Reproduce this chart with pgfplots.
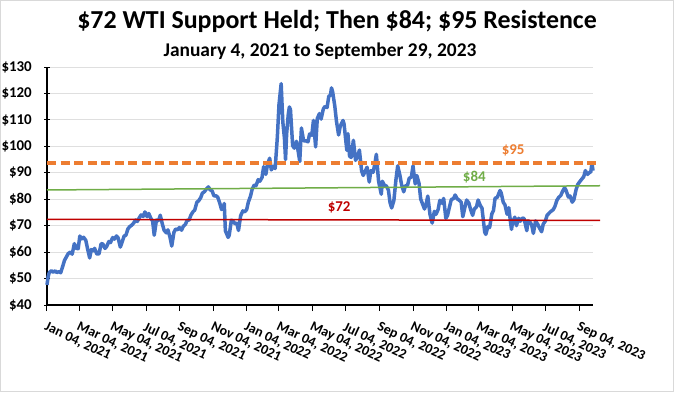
\documentclass[border=0pt]{standalone}
\usepackage{pgfplots}
\pgfplotsset{compat=1.18}
\usepackage{fontspec}
\setmainfont{Carlito}
\definecolor{wtiblue}{HTML}{4472C4}
\definecolor{exorange}{HTML}{ED7D31}
\definecolor{exgreen}{HTML}{70AD47}
\definecolor{exred}{HTML}{C00000}
\pgfplotstableread{
day price
0 47.6
2 50.6
4 52.2
8 53.0
11 52.4
15 52.9
18 52.3
22 52.6
25 52.2
29 54.8
32 56.9
36 58.4
39 59.5
43 60.0
46 59.2
50 63.2
53 61.5
57 61.3
60 66.1
63 65.0
67 65.6
71 64.4
74 61.4
78 57.8
81 60.97
85 60.5
87 61.45
91 59.3
95 59.3
99 63.2
102 63.1
106 61.4
109 62.1
113 64.0
116 63.6
120 65.5
123 64.9
127 66.1
130 65.4
134 61.9
137 63.6
141 66.1
144 66.3
148 68.8
151 69.6
155 70.2
158 70.9
162 72.1
165 71.6
169 73.1
172 74.05
176 73.5
179 75.2
183 73.4
186 74.6
190 72.7
193 71.8
196 66.4
200 72.1
204 71.9
207 73.95
211 70.5
214 68.3
218 67.3
221 68.4
225 65.5
228 62.3
232 67.5
235 68.7
239 68.5
242 69.3
246 68.3
249 69.7
253 70.5
256 71.97
260 72.2
263 73.98
267 75.3
270 75.9
274 78.9
277 79.35
281 80.6
284 82.3
288 82.9
291 83.8
295 84.65
298 83.6
302 83.1
305 81.3
309 81.3
312 80.8
316 78.4
319 76.1
322 76.8
324 78.4
326 68.15
331 65.57
333 66.3
337 72.1
340 71.7
344 70.7
347 70.9
350 68.2
354 73.8
358 75.6
361 75.2
365 76.1
368 78.9
372 81.2
375 83.8
379 85.4
382 85.1
386 87.4
389 86.8
393 88.2
396 92.3
400 89.4
403 93.1
407 95.5
410 91.1
414 92.4
417 91.6
421 103.4
424 115.7
428 123.7
431 109.3
434 103.0
436 95.0
438 104.7
441 112.1
443 114.9
445 113.9
449 100.3
452 99.3
456 101.9
459 98.3
462 94.3
465 106.95
469 102.1
473 102.1
477 101.7
480 104.7
484 104.2
487 109.8
491 99.8
494 110.5
498 112.4
501 110.3
505 114.1
508 115.1
512 114.7
515 118.9
518 119.4
520 122.1
522 120.7
526 115.3
529 109.6
533 104.3
536 107.6
541 109.8
543 108.4
548 98.5
550 104.8
553 96.3
556 95.8
560 102.3
564 94.7
568 96.3
571 98.6
575 90.7
578 89.0
582 90.8
585 92.1
589 86.5
592 90.8
596 90.2
599 93.1
602 97.0
606 86.9
611 81.9
613 86.8
617 85.1
620 85.1
624 83.5
627 78.7
630 76.7
634 79.5
638 87.8
641 92.6
645 89.1
648 85.6
652 82.8
655 85.05
659 85.3
662 87.9
666 88.4
669 92.6
673 85.8
676 88.96
680 86.0
683 80.1
687 77.9
690 76.3
693 78.2
696 81.2
700 74.3
704 71.0
708 75.4
711 74.3
715 76.2
718 79.6
722 78.5
725 80.3
729 72.8
732 73.8
736 77.4
739 79.9
743 80.2
746 81.6
750 80.1
753 79.7
757 78.9
760 73.4
764 77.1
767 79.7
771 78.6
774 76.3
778 73.9
781 76.3
785 77.1
788 79.7
792 77.6
795 76.7
798 71.3
800 67.6
802 66.7
806 69.7
809 69.3
813 74.4
816 75.7
819 80.4
823 80.7
828 83.3
830 82.5
834 78.8
837 77.9
841 74.3
844 76.8
847 71.7
849 68.6
851 71.3
855 73.2
858 70.0
862 72.8
865 71.7
869 72.9
872 72.7
877 68.1
879 71.7
883 71.3
886 70.2
889 67.1
893 71.8
897 70.5
900 69.2
904 67.7
907 70.6
911 71.8
914 73.9
918 74.8
921 75.4
925 76.0
928 77.1
932 79.6
935 80.6
939 81.4
942 82.8
946 84.4
949 83.2
953 80.8
956 81.25
960 78.9
963 79.8
967 83.6
970 85.55
974 86.7
977 87.5
981 88.5
984 90.8
988 89.4
991 90.0
994 90.4
996 93.7
998 90.8
}\wti
\begin{document}
\begin{tikzpicture}[x=1bp,y=1bp]
\useasboundingbox (-47,-87) rectangle (627,305);
\fill[white] (-47,-87) rectangle (627,305);
\draw[gray!30, line width=1bp] (-46.5,-86.5) rectangle (626.5,304.5);
\node[font=\bfseries\fontsize{26}{26}\selectfont] at (290,284) {\$72 WTI Support Held; Then \$84; \$95 Resistence};
\node[font=\bfseries\fontsize{19.5}{19.5}\selectfont] at (273,254) {January 4, 2021 to September 29, 2023};
\begin{axis}[
  at={(0,0)}, anchor=south west,
  scale only axis, width=546bp, height=238bp,
  xmin=0, xmax=998, ymin=40, ymax=130,
  axis x line*=bottom, axis y line*=left,
  axis line style={black, line width=1.3bp},
  clip=false,
  ymajorgrids, major grid style={gray!25, line width=0.8bp},
  tick align=outside, major tick length=6bp,
  tick style={black, line width=1bp},
  y tick style={xshift=3bp},
  xtick={0,59,120,181,243,304,365,424,485,546,608,669,730,789,850,911,973},
  xticklabels={{Jan 04, 2021},{Mar 04, 2021},{May 04, 2021},{Jul 04, 2021},{Sep 04, 2021},{Nov 04, 2021},{Jan 04, 2022},{Mar 04, 2022},{May 04, 2022},{Jul 04, 2022},{Sep 04, 2022},{Nov 04, 2022},{Jan 04, 2023},{Mar 04, 2023},{May 04, 2023},{Jul 04, 2023},{Sep 04, 2023}},
  x tick label style={rotate=-25, anchor=north west, font=\bfseries\fontsize{14}{14}\selectfont, inner sep=1bp, yshift=-8bp, xshift=4bp},
  ytick={40,50,...,130},
  yticklabels={\$40,\$50,\$60,\$70,\$80,\$90,\$100,\$110,\$120,\$130},
  y tick label style={font=\bfseries\fontsize{15}{15}\selectfont, anchor=east, inner sep=1bp, xshift=-8bp},
]
\addplot[wtiblue, line width=3.5bp, line join=round, no marks] table[x=day, y=price] {\wti};
\addplot[exorange, line width=4bp, dash pattern=on 9bp off 4.5bp, no marks] coordinates {(0,93.6) (1011,93.6)};
\addplot[exgreen, line width=1.5bp, no marks] coordinates {(0,83.5) (1011,85.1)};
\addplot[exred, line width=1.5bp, no marks] coordinates {(0,72.4) (1011,72.0)};
\node[font=\bfseries\fontsize{15}{15}\selectfont, text=exorange] at (axis cs:852,98.3) {\$95};
\node[font=\bfseries\fontsize{15}{15}\selectfont, text=exgreen] at (axis cs:781,88.5) {\$84};
\node[font=\bfseries\fontsize{15}{15}\selectfont, text=exred] at (axis cs:534,76.8) {\$72};
\end{axis}
\end{tikzpicture}
\end{document}
